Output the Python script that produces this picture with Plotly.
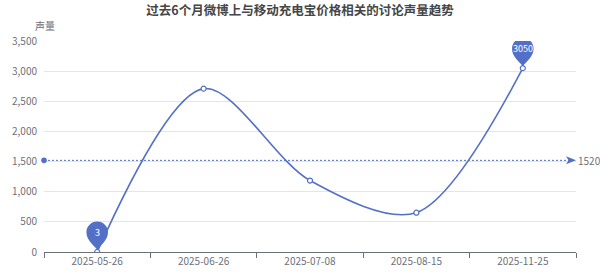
import plotly.graph_objects as go

dates = ["2025-05-26", "2025-06-26", "2025-07-08", "2025-08-15", "2025-11-25"]
volume = [3, 2710, 1185, 652, 3050]
avg_label = "1520"
avg_value = 1520
title = "过去6个月微博上与移动充电宝价格相关的讨论声量趋势"
y_name = "声量"

BLUE = "#5470c6"
FONT = "Noto Sans CJK SC"

fig = go.Figure()
fig.add_trace(go.Scatter(
    x=dates, y=volume, mode="lines+markers",
    line=dict(color=BLUE, width=1.6, shape="spline", smoothing=0.9),
    marker=dict(symbol="circle", size=5, color="white", line=dict(color=BLUE, width=1.2)),
    hoverinfo="skip", showlegend=False,
))

shapes = []
annotations = []

# pins at min and max
pin_path = ("M0,2 C-4,7 -10.8,12 -10.8,19.5 C-10.8,25.5 -6,30.3 0,30.3 "
            "C6,30.3 10.8,25.5 10.8,19.5 C10.8,12 4,7 0,2 Z")
imin = volume.index(min(volume))
imax = volume.index(max(volume))
for i in (imin, imax):
    shapes.append(dict(type="path", xref="x", yref="y",
                       xsizemode="pixel", ysizemode="pixel",
                       xanchor=dates[i], yanchor=volume[i],
                       path=pin_path, fillcolor=BLUE, line=dict(width=0), layer="above"))
    annotations.append(dict(x=dates[i], y=volume[i], xref="x", yref="y",
                            text=str(volume[i]), showarrow=False, yshift=19.5,
                            font=dict(color="white", size=9, family=FONT)))

# average mark line
shapes.append(dict(type="line", xref="paper", yref="y", x0=0, x1=0.99,
                   y0=avg_value, y1=avg_value,
                   line=dict(color=BLUE, width=1, dash="2px,2px")))
shapes.append(dict(type="circle", xref="paper", yref="y",
                   xsizemode="pixel", ysizemode="pixel", xanchor=0, yanchor=avg_value,
                   x0=-2.8, x1=2.8, y0=-2.8, y1=2.8, fillcolor=BLUE, line=dict(width=0)))
shapes.append(dict(type="path", xref="paper", yref="y",
                   xsizemode="pixel", ysizemode="pixel", xanchor=1, yanchor=avg_value,
                   path="M0,0 L-10,4 L-7.5,0 L-10,-4 Z", fillcolor=BLUE, line=dict(width=0)))
annotations.append(dict(x=1, y=avg_value, xref="paper", yref="y", xanchor="left",
                        text=avg_label, showarrow=False, xshift=0,
                        font=dict(color="#6e7079", size=10, family=FONT)))

annotations.append(dict(x=0, y=1, xref="paper", yref="paper", xanchor="center",
                        yanchor="bottom", text=y_name, showarrow=False, yshift=6, xshift=1,
                        font=dict(color="#6e7079", size=10, family=FONT)))

fig.update_layout(
    width=600, height=275,
    margin=dict(l=44, r=24, t=41, b=23, autoexpand=False),
    paper_bgcolor="white", plot_bgcolor="white",
    title=dict(text="<b>" + title + "</b>", x=0.5, xanchor="center", y=0.96, yanchor="middle",
               font=dict(size=12.5, color="#464646", family=FONT)),
    font=dict(family=FONT, color="#6e7079", size=10),
    shapes=shapes, annotations=annotations,
    xaxis=dict(type="category", range=[-0.5, len(dates) - 0.5], showgrid=False,
               showline=True, linecolor="#6e7079", linewidth=1, automargin=False,
               ticks="outside", tickson="boundaries", ticklen=5, tickcolor="#6e7079",
               tickfont=dict(size=10, color="#6e7079"), fixedrange=True),
    yaxis=dict(range=[0, 3500], dtick=500, tickformat=",", showgrid=True, automargin=False,
               gridcolor="#e0e6f1", gridwidth=1, zeroline=False, showline=False,
               ticks="", tickfont=dict(size=10, color="#6e7079"), ticklabelstandoff=6),
)

fig.write_html("out.html")
